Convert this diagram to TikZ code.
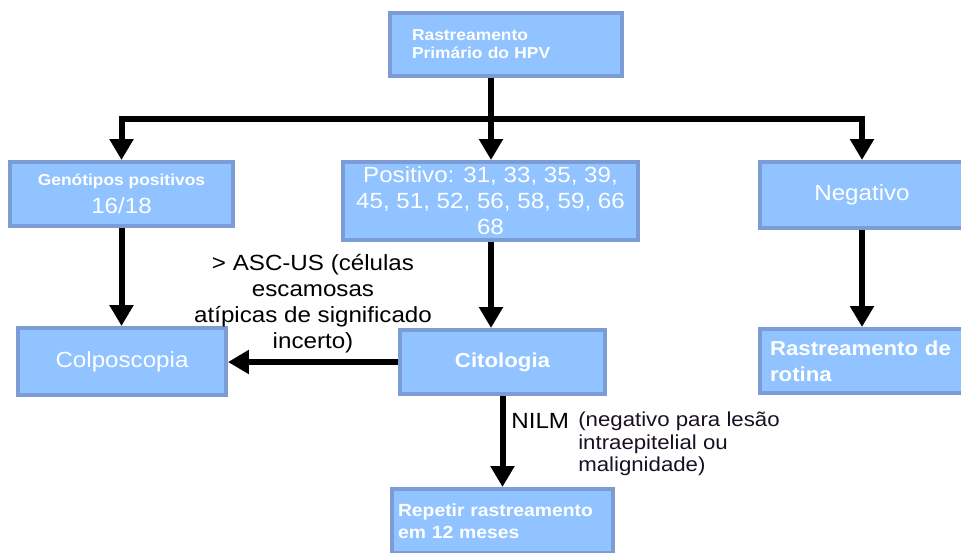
\documentclass[tikz,border=0pt]{standalone}
\usepackage{fontspec}
\setmainfont{Liberation Sans}[FakeStretch=1.1]
\usetikzlibrary{arrows.meta,positioning}
\definecolor{boxfill}{RGB}{144,195,255}
\definecolor{boxline}{RGB}{124,156,214}
\definecolor{notetext}{RGB}{25,15,35}

\begin{document}
\begin{tikzpicture}[x=0.02cm,y=-0.02cm,
                    >={Triangle[width=0.46cm,length=0.42cm]},
                    flow/.style={->,line width=0.12cm},
                    box/.style={draw=boxline,fill=boxfill,line width=0.08cm,text=white,
                                inner sep=0pt,minimum height=1.28cm},
                    big/.style={font=\fontsize{12.5}{14.8}\selectfont},
                    mid/.style={font=\fontsize{11.5}{14.8}\selectfont\bfseries},
                    small/.style={font=\fontsize{9}{10.3}\selectfont\bfseries}]
  \useasboundingbox (0,0) rectangle (961,552);
  \clip (0,0) rectangle (961,552);

  \node[box,small,minimum width=4.64cm,minimum height=1.26cm,text width=3.76cm,align=left]
    (hpv) at (506,44.5) {Rastreamento\\Primário do HPV};
  \node[box,big,minimum width=4.46cm,align=center] (geno) at (121.5,194)
    {{\fontsize{9}{11}\selectfont\bfseries Genótipos positivos}\\[1pt]16/18};
  \node[box,big,minimum width=5.9cm,minimum height=1.56cm,align=center] (pos) at (490.5,201)
    {Positivo: 31, 33, 35, 39,\\45, 51, 52, 56, 58, 59, 66\\68};
  \node[box,big,minimum width=4.08cm,minimum height=1.32cm] (neg) at (862,195) {Negativo};
  \node[box,big,minimum width=4.16cm,minimum height=1.34cm] (colp) at (122,361.5) {Colposcopia};
  \node[box,mid,minimum width=4.1cm] (cito) at (502.5,362) {Citologia};
  \node[box,mid,minimum width=4.4cm,text width=4.0cm,align=left] (rot) at (870,361)
    {Rastreamento de\\rotina};
  \node[box,font=\fontsize{10}{12.5}\selectfont\bfseries,minimum width=4.42cm,
        text width=4.18cm,align=left] (rep) at (502.5,521) {Repetir rastreamento\\em 12 meses};

  % ramos do rastreamento
  \coordinate (split) at (491,119);
  \draw[flow,-] (hpv.south -| split) -- (split);
  \draw[flow] (split) -| (geno.north);
  \draw[flow] (split) -| (neg.north);
  \draw[flow] (split) -- (pos.north -| split);

  \draw[flow] (geno.south) -- (colp.north -| geno.south);
  \draw[flow] (pos.south -| split) -- (cito.north -| split);
  \draw[flow] (neg.south) -- (rot.north -| neg.south);

  \draw[flow] (cito.west) -- node[above,big,align=center] (ascus)
    {> ASC-US (células\\escamosas\\atípicas de significado\\incerto)} (colp.east |- cito.west);
  \draw[flow] (cito.south -| rep.north) -- (rep.north)
    node[pos=0.27,right,big] (nilm) {NILM};
  \node[anchor=north west,align=left,inner sep=0pt,text=notetext,
        font=\fontsize{11.5}{13}\selectfont] (nilmnote) at ([yshift=-4pt]nilm.north east)
    {(negativo para lesão\\intraepitelial ou\\malignidade)};
\end{tikzpicture}
\end{document}
